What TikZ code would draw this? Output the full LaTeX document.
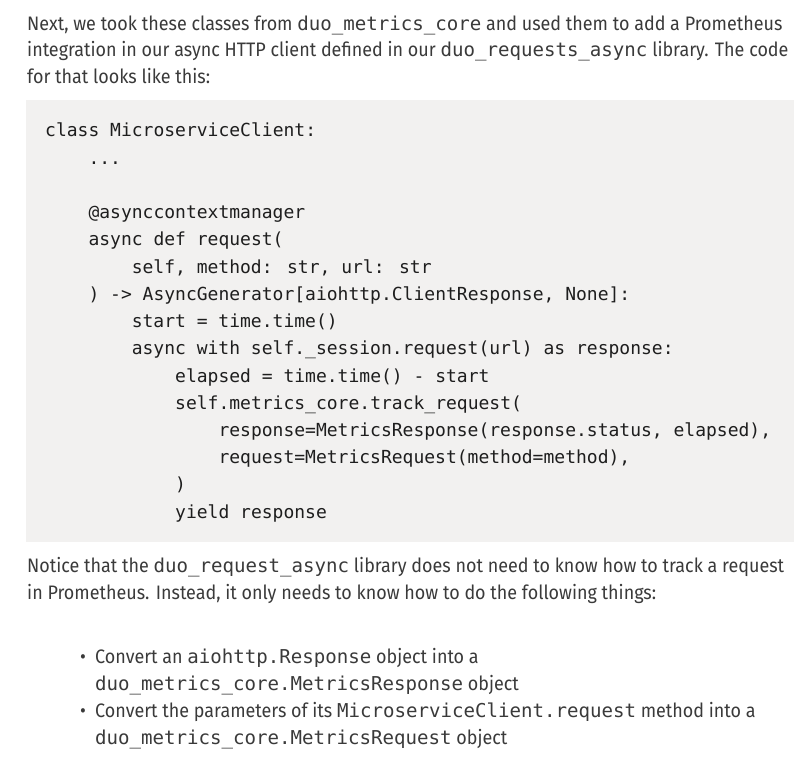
\documentclass[tikz,border=0pt]{standalone}
\usepackage{fontspec}
\setmainfont{Fira Sans}[FakeStretch=0.92]
\newfontfamily\codefont{DejaVu Sans Mono}
\definecolor{textgrey}{HTML}{3A3A3A}
\definecolor{codeink}{HTML}{1E1E1E}
\definecolor{codebg}{HTML}{F2F1F0}
\newcommand{\inl}[1]{{\codefont\fontsize{19.1}{19.1}\selectfont #1}}
\begin{document}
\begin{tikzpicture}[x=1pt,y=-1pt,
  para/.style={anchor=base west,inner sep=0pt,text=textgrey,font=\fontsize{19.5}{19.5}\selectfont},
  codeline/.style={anchor=base west,inner sep=0pt,text=codeink,font=\codefont\fontsize{18}{18}\selectfont}]
\useasboundingbox[fill=white] (0,0) rectangle (800,767);
\node (i1) at (27,30.7) [para] {Next, we took these classes from \inl{duo\_metrics\_core} and used them to add a Prometheus};
\node (i2) at (27,57) [para] {integration in our async HTTP client defined in our \inl{duo\_requests\_async} library. The code};
\node (i3) at (27,83.5) [para] {for that looks like this:};
\fill[codebg] (26,100.5) rectangle (794,542);
\node (c1) at (45,137) [codeline] {class MicroserviceClient:};
\node (c2) at (88.3,164.2) [codeline] {...};
\node (c4) at (88.3,218.7) [codeline] {@asynccontextmanager};
\node (c5) at (88.3,245.9) [codeline] {async def request(};
\node (c6) at (131.6,273.1) [codeline] {self, method: str, url: str};
\node (c7) at (88.3,300.3) [codeline] {) -> AsyncGenerator[aiohttp.ClientResponse, None]:};
\node (c8) at (131.6,327.5) [codeline] {start = time.time()};
\node (c9) at (131.6,354.8) [codeline] {async with self.\_session.request(url) as response:};
\node (c10) at (175,382) [codeline] {elapsed = time.time() - start};
\node (c11) at (175,409.2) [codeline] {self.metrics\_core.track\_request(};
\node (c12) at (218.3,436.4) [codeline] {response=MetricsResponse(response.status, elapsed),};
\node (c13) at (218.3,463.6) [codeline] {request=MetricsRequest(method=method),};
\node (c14) at (175,490.8) [codeline] {)};
\node (c15) at (175,518) [codeline] {yield response};
\node (n1) at (27,572.7) [para] {Notice that the \inl{duo\_request\_async} library does not need to know how to track a request};
\node (n2) at (27,599) [para] {in Prometheus. Instead, it only needs to know how to do the following things:};
\node (d1) at (80,663) [para] {\textbullet};
\node (b1) at (95,663) [para] {Convert an \inl{aiohttp.Response} object into a};
\node (b2) at (95,690) [para] {\inl{duo\_metrics\_core.MetricsResponse} object};
\node (d2) at (80,717) [para] {\textbullet};
\node (b3) at (95,717) [para] {Convert the parameters of its \inl{MicroserviceClient.request} method into a};
\node (b4) at (95,744) [para] {\inl{duo\_metrics\_core.MetricsRequest} object};
\end{tikzpicture}
\end{document}
